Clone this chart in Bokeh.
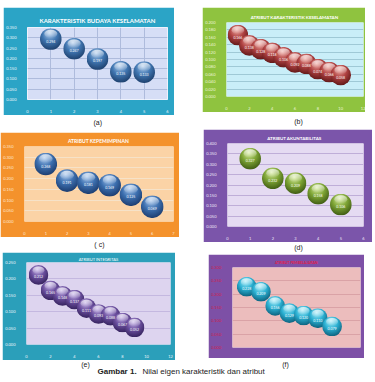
import base64
from bokeh.plotting import figure
from bokeh.models import Range1d, FixedTicker, NumeralTickFormatter, ColumnDataSource, Spacer
from bokeh.layouts import column, row
from bokeh.embed import file_html
from bokeh.resources import INLINE
from bokeh.core.properties import value

FONT = "Lato"
CAP_FONT = "Liberation Sans"

# ---------------- data ----------------
a_title = "KARAKTERISTIK BUDAYA KESELAMATAN"
a_x = [1, 2, 3, 4, 5]
a_y = [0.294, 0.247, 0.197, 0.135, 0.133]
a_xticks = [0, 1, 2, 3, 4, 5, 6]
a_yticks = [0.0, 0.05, 0.10, 0.15, 0.20, 0.25, 0.30, 0.35]

b_title = "ATRIBUT  KARAKTERISTIK KESELAMATAN"
b_x = [1, 2, 3, 4, 5, 6, 7, 8, 9, 10]
b_y = [0.166, 0.138, 0.128, 0.118, 0.106, 0.092, 0.088, 0.074, 0.066, 0.058]
b_xticks = [0, 2, 4, 6, 8, 10, 12]
b_yticks = [0.0, 0.02, 0.04, 0.06, 0.08, 0.10, 0.12, 0.14, 0.16, 0.18, 0.20]

c_title = "ATRIBUT  KEPEMIMPINAN"
c_x = [1, 2, 3, 4, 5, 6]
c_y = [0.268, 0.191, 0.181, 0.169, 0.125, 0.069]
c_xticks = [0, 1, 2, 3, 4, 5, 6, 7]
c_yticks = [0.0, 0.05, 0.10, 0.15, 0.20, 0.25, 0.30, 0.35]

d_title = "ATRIBUT   AKUNTABILITAS"
d_x = [1, 2, 3, 4, 5]
d_y = [0.327, 0.232, 0.209, 0.158, 0.106]
d_xticks = [0, 1, 2, 3, 4, 5, 6]
d_yticks = [0.0, 0.05, 0.10, 0.15, 0.20, 0.25, 0.30, 0.35, 0.40]

e_title = "ATRIBUT INTEGRITAS"
e_x = [1, 2, 3, 4, 5, 6, 7, 8, 9]
e_y = [0.212, 0.165, 0.148, 0.137, 0.111, 0.093, 0.088, 0.067, 0.052]
e_xticks = [0, 2, 4, 6, 8, 10, 12]
e_yticks = [0.0, 0.05, 0.10, 0.15, 0.20, 0.25]

f_title = "ATRIBUT PEMBELAJARAN"
f_x = [1, 2, 3, 4, 5, 6, 7]
f_y = [0.228, 0.209, 0.156, 0.129, 0.120, 0.110, 0.079]
f_xticks = [0, 1, 2, 3, 4, 5, 6, 7, 8, 9]
f_yticks = [0.0, 0.05, 0.10, 0.15, 0.20, 0.25, 0.30]

sub_labels = ["(a)", "(b)", "( c)", "(d)", "(e)", "(f)"]
caption_bold = "Gambar 1."
caption_rest = "Nilai eigen karakteristik dan atribut"


def sphere_url(light, base, dark):
    svg = f"""<svg xmlns="http://www.w3.org/2000/svg" width="64" height="64" viewBox="0 0 64 64">
<defs>
<radialGradient id="g" gradientUnits="userSpaceOnUse" cx="30" cy="24" r="42" fx="28" fy="14">
<stop offset="0" stop-color="{light}"/>
<stop offset="0.5" stop-color="{base}"/>
<stop offset="1" stop-color="{dark}"/>
</radialGradient>
<linearGradient id="h" x1="0" y1="0" x2="0" y2="1">
<stop offset="0" stop-color="#ffffff" stop-opacity="0.7"/>
<stop offset="1" stop-color="#ffffff" stop-opacity="0"/>
</linearGradient>
</defs>
<circle cx="32" cy="32" r="31.5" fill="url(#g)"/>
<ellipse cx="32" cy="17" rx="19" ry="12" fill="url(#h)"/>
</svg>"""
    return "data:image/svg+xml;base64," + base64.b64encode(svg.encode()).decode()


def panel(title, xs, ys, xticks, yticks, W, H, bl, br, bt, bb, outer, inner,
          grid_color, tick_color, title_color, title_size, title_offset,
          title_standoff, ball, D, vgrid=False, show_x=True, title_bold=True,
          outline=None):
    p = figure(width=W, height=H,
               x_range=Range1d(xticks[0], xticks[-1]),
               y_range=Range1d(yticks[0], yticks[-1]),
               output_backend="svg", toolbar_location=None, title=title,
               min_border_left=bl, min_border_right=br,
               min_border_top=bt, min_border_bottom=bb)
    p.border_fill_color = outer
    p.background_fill_color = inner
    p.outline_line_color = outline
    t = p.title
    t.align = "center"
    t.text_color = title_color
    t.text_font_size = f"{title_size}px"
    t.text_font = FONT
    t.text_font_style = "bold" if title_bold else "normal"
    t.offset = title_offset
    t.standoff = title_standoff
    for ax in (p.xaxis[0], p.yaxis[0]):
        ax.axis_line_color = None
        ax.major_tick_line_color = None
        ax.minor_tick_line_color = None
        ax.major_label_text_font_size = "4px"
        ax.major_label_text_color = tick_color
        ax.major_label_text_font = FONT
    p.xaxis.ticker = FixedTicker(ticks=xticks)
    p.yaxis.ticker = FixedTicker(ticks=yticks)
    p.yaxis.formatter = NumeralTickFormatter(format="0.000")
    p.yaxis.major_label_standoff = 5
    p.xaxis.major_label_standoff = 4
    if not show_x:
        p.xaxis.major_label_text_alpha = 0
    p.ygrid.grid_line_color = grid_color
    p.xgrid.grid_line_color = grid_color if vgrid else None
    src = ColumnDataSource(dict(x=xs, y=ys, url=[ball] * len(xs),
                                lab=[f"{v:.3f}" for v in ys]))
    p.image_url(url="url", x="x", y="y", w=D, h=D, w_units="screen",
                h_units="screen", anchor="center", source=src)
    p.text(x="x", y="y", text="lab", source=src, text_color="white",
           text_font_size="3.5px", text_align="center", text_baseline="middle",
           text_font=value(FONT), y_offset=2)
    return p


def label_fig(w, h, items):
    p = figure(width=w, height=h, x_range=Range1d(0, w), y_range=Range1d(0, h),
               x_axis_type=None, y_axis_type=None, toolbar_location=None,
               output_backend="svg", min_border=0)
    p.outline_line_color = None
    p.border_fill_color = "white"
    p.background_fill_color = "white"
    for (tx, ty, txt, size, style, align) in items:
        p.text(x=[tx], y=[h - ty], text=[txt], text_font=value(CAP_FONT),
               text_font_size=size, text_font_style=style, text_align=align,
               text_baseline="middle", text_color="#222222")
    return p


pa = panel(a_title, a_x, a_y, a_xticks, a_yticks, 171, 108, 20, 7, 20, 15,
           "#2ba4c6", "#d6def6", "#aebbdc", "#eef6fb", "white", 6, -6, 8,
           sphere_url("#b5d0ee", "#4177b2", "#1b3c68"), 22, vgrid=True,
           outline="#eef2fc")
pb = panel(b_title, b_x, b_y, b_xticks, b_yticks, 163, 105, 16, 2, 15, 9,
           "#8fc33f", "#c9eef8", "#9fc9d6", "#eef5dc", "white", 4.5, -4, 5,
           sphere_url("#f2b0a8", "#b04242", "#5a1414"), 21)
pc = panel(c_title, c_x, c_y, c_xticks, c_yticks, 179, 105, 16, 6, 14, 12,
           "#f4922c", "#fbd3a6", "#f6e2c8", "#fde8d4", "white", 5, -5, 5,
           sphere_url("#a8c8ee", "#3d70b0", "#19386a"), 23)
pd = panel(d_title, d_x, d_y, d_xticks, d_yticks, 169, 113, 16, 9, 14, 14,
           "#7b55aa", "#e5dbf2", "#bfaed8", "#efe8f8", "white", 4.5, -5, 5,
           sphere_url("#dbeea6", "#7fa636", "#3a5610"), 22)
pe = panel(e_title, e_x, e_y, e_xticks, e_yticks, 173, 108, 15, 5, 10, 13,
           "#2b9fba", "#ddd4ef", "#c4b8e0", "#eef6fa", "white", 4, -3, 1,
           sphere_url("#c8b6ea", "#6b4f9e", "#301e58"), 20, title_bold=False)
pf = panel(f_title, f_x, f_y, f_xticks, f_yticks, 156, 104, 14, 4, 13, 11,
           "#7d50a6", "#ecbdbd", "#daa2a6", "#d0204a", "#e0204a", 3.5, -4, 5,
           sphere_url("#aeeef9", "#2cb1d3", "#0a5a76"), 20, show_x=False)

la = label_fig(179, 17, [(88, 7, sub_labels[0], "7px", "normal", "center")])
lc = label_fig(179, 15, [(90, 7, sub_labels[2], "7px", "normal", "center")])
lb = label_fig(170, 17, [(85, 9, sub_labels[1], "7px", "normal", "center")])
ld = label_fig(170, 12, [(85, 5, sub_labels[3], "7px", "normal", "center")])
bottom = label_fig(375, 22, [
    (85, 3.5, sub_labels[4], "7px", "normal", "center"),
    (285, 3.5, sub_labels[5], "7px", "normal", "center"),
    (97, 11, caption_bold, "8px", "bold", "left"),
    (142, 11, caption_rest, "8px", "normal", "left"),
])

left = column(Spacer(height=7), row(Spacer(width=3), pa), la, pc, lc,
              row(Spacer(width=2), pe))
right = column(Spacer(height=7), pb, lb, row(Spacer(width=1), pd), ld,
               row(Spacer(width=6), pf), Spacer(height=2))
top = row(left, Spacer(width=23), right)
layout = column(top, bottom)

open("out.html", "w").write(file_html(layout, INLINE))
